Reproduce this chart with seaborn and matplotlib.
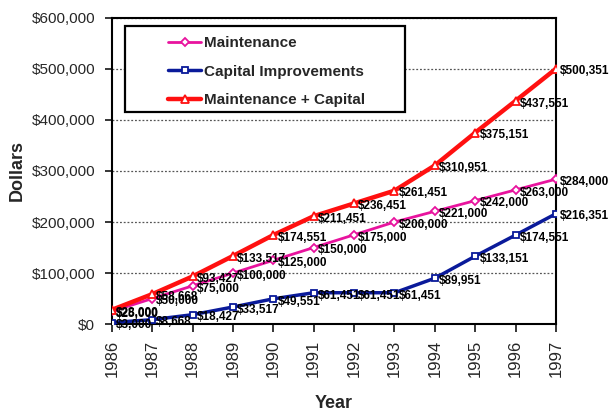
import matplotlib
matplotlib.use("Agg")
import matplotlib.pyplot as plt
import seaborn as sns
import pandas as pd
from matplotlib.ticker import FuncFormatter, MultipleLocator
from matplotlib.patches import Rectangle

years = [1986, 1987, 1988, 1989, 1990, 1991, 1992, 1993, 1994, 1995, 1996, 1997]
maintenance = [25000, 50000, 75000, 100000, 125000, 150000, 175000, 200000,
               221000, 242000, 263000, 284000]
capital = [3000, 8668, 18427, 33517, 49551, 61451, 61451, 61451,
           89951, 133151, 174551, 216351]
total = [28000, 58668, 93427, 133517, 174551, 211451, 236451, 261451,
         310951, 375151, 437551, 500351]
series_names = ["Maintenance", "Capital Improvements", "Maintenance + Capital"]

sns.set_theme(style="white")
plt.rcParams['font.family'] = ['Liberation Sans', 'DejaVu Sans']

df = pd.DataFrame({
    "Year": years * 3,
    "Dollars": maintenance + capital + total,
    "Series": [series_names[0]] * 12 + [series_names[1]] * 12 + [series_names[2]] * 12,
})

colors = {"Maintenance": "#E8139E", "Capital Improvements": "#0A1A9A",
          "Maintenance + Capital": "#FF1010"}
markers = {"Maintenance": "D", "Capital Improvements": "s",
           "Maintenance + Capital": "^"}
widths = {"Maintenance": 2.0, "Capital Improvements": 2.5, "Maintenance + Capital": 3.2}
msize = {"Maintenance": 4, "Capital Improvements": 5, "Maintenance + Capital": 5.5}

fig = plt.figure(figsize=(6.11, 4.15), dpi=100)
ax = fig.add_axes([0.183, 0.219, 0.727, 0.738])

for name in series_names:
    sub = df[df["Series"] == name]
    sns.lineplot(data=sub, x="Year", y="Dollars", ax=ax, color=colors[name],
                 marker=markers[name], markersize=msize[name],
                 markerfacecolor="white", markeredgecolor=colors[name],
                 markeredgewidth=1.3, linewidth=widths[name], label=name,
                 zorder=3)

for name in series_names:
    sub = df[df["Series"] == name]
    for x, y in zip(sub["Year"], sub["Dollars"]):
        ax.annotate(f"${y:,.0f}", (x, y), xytext=(3, -2), textcoords="offset points",
                    ha="left", va="center", fontsize=8.5, color="black",
                    fontweight="bold", annotation_clip=False, zorder=4)

ax.set_xlim(1986, 1997)
ax.set_ylim(0, 600000)
ax.set_xticks(years)
ax.set_xticklabels([str(y) for y in years], rotation=90, fontsize=12)
ax.yaxis.set_major_locator(MultipleLocator(100000))
ax.yaxis.set_major_formatter(FuncFormatter(lambda v, p: f"${v:,.0f}"))
ax.tick_params(axis="y", labelsize=11, length=5, width=1.3, direction="out",
               left=True, pad=7)
ax.tick_params(axis="x", length=6, width=1.3, direction="out", bottom=True, pad=5)
ax.grid(axis="y", linestyle=(0, (1.5, 1.5)), color="#555555", linewidth=0.9)
ax.grid(axis="x", visible=False)
for s in ax.spines.values():
    s.set_color("black")
    s.set_linewidth(1.5)

ax.set_xlabel("Year", fontsize=13, fontweight="bold", labelpad=13)
ax.set_ylabel("Dollars", fontsize=13, fontweight="bold", labelpad=4)

# legend box frame
ax.add_patch(Rectangle((0.029, 0.693), 0.631, 0.281, transform=ax.transAxes,
                       facecolor="white", edgecolor="black", linewidth=1.6,
                       zorder=5))
leg = ax.legend(loc="upper left", bbox_to_anchor=(0.126, 0.94), frameon=False,
                prop={"weight": "bold", "size": 11}, handlelength=2.2,
                handletextpad=0.15, borderpad=0, labelspacing=0.95,
                borderaxespad=0)
leg.set_zorder(6)

fig.savefig("out.png", dpi=100)
